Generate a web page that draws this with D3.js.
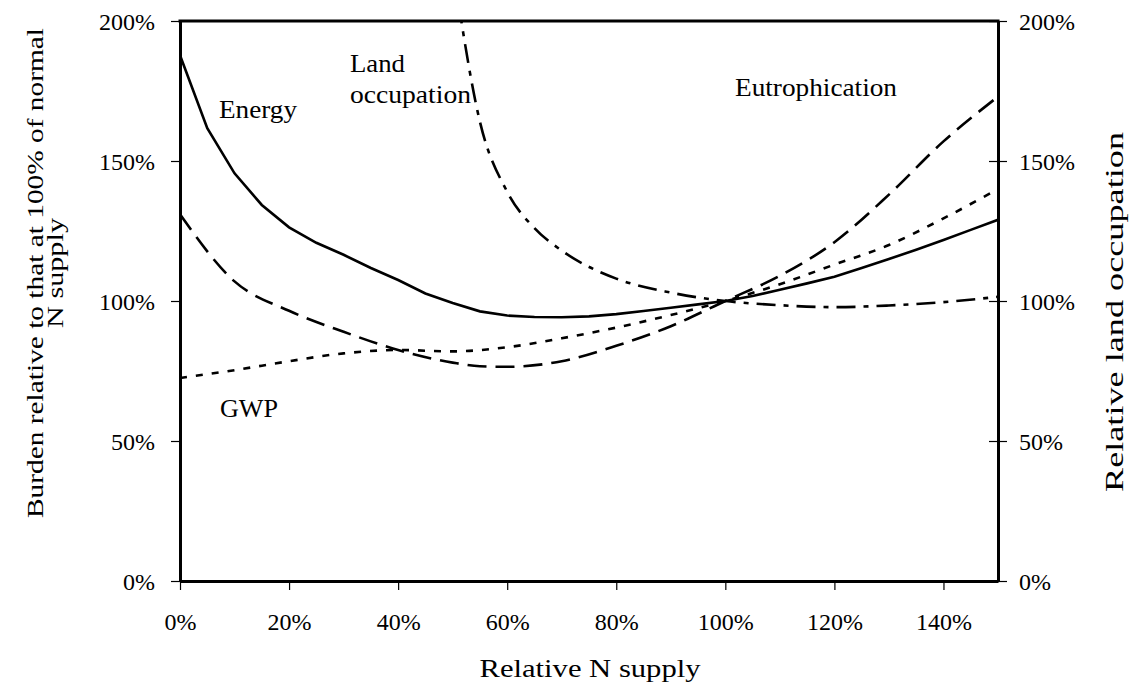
<!DOCTYPE html>
<html>
<head>
<meta charset="utf-8">
<script src="https://cdn.jsdelivr.net/npm/d3@7"></script>
<style>
  body { margin: 0; background: #fff; }
  svg { display: block; }
</style>
</head>
<body>
<svg id="chart" width="1135" height="686"></svg>
<script>
// Relative N supply (%) and tick values
const xTickValues = [0, 20, 40, 60, 80, 100, 120, 140];
const yTickValues = [0, 50, 100, 150, 200];

// Energy burden, sampled every 5 %
const energyX = [0,5,10,15,20,25,30,35,40,45,50,55,60,65,70,75,80,85,90,95,100,105,110,115,120,125,130,135,140,145,150];
const energyY = [187.8,161.7,145.6,134.3,126.3,120.8,116.5,111.8,107.5,102.7,99.3,96.3,94.8,94.3,94.2,94.5,95.3,96.4,97.6,98.8,100,101.8,104,106.3,108.7,111.8,115,118.3,121.8,125.4,129];

// Eutrophication burden
const eutroX = [0,10,20,30,40,50,55,60,70,80,90,100,110,120,130,140,150];
const eutroY = [131,107,96.5,89,82.5,78,76.7,76.5,78.5,84,91,100,109,121,138,157,173];

// Global warming potential
const gwpX = [0,10,20,30,40,50,60,70,80,90,100,110,120,130,140,150];
const gwpY = [72.5,75.3,78.5,81.3,82.5,82,83.5,86.7,90.5,95,100,106,113,120,129.5,140];

// Land occupation (right axis)
const landX = [50,55,60,65,70,80,90,100,110,120,130,140,150];
const landY = [220,164,139,126,118,108,103,100,98.5,97.8,98.4,99.6,101.5];

const SERIF = '"Liberation Serif", "DejaVu Serif", "Times New Roman", serif';

const svg = d3.select("#chart").attr("font-family", SERIF).style("font-family", SERIF);
const plotLeft = 180, plotRight = 998, plotTop = 21, plotBottom = 581;

const x = d3.scaleLinear().domain([0, 150]).range([plotLeft, plotRight]);
const y = d3.scaleLinear().domain([0, 200]).range([plotBottom, plotTop]);
const yR = d3.scaleLinear().domain([0, 200]).range([plotBottom, plotTop]);
const pct = d => d + "%";

svg.append("defs").append("clipPath").attr("id", "plotClip")
  .append("rect").attr("x", plotLeft).attr("y", plotTop)
  .attr("width", plotRight - plotLeft).attr("height", plotBottom - plotTop);

// Axes
const gx = svg.append("g").attr("transform", `translate(0,${plotBottom})`)
  .call(d3.axisBottom(x).tickValues(xTickValues).tickFormat(pct).tickSize(9).tickSizeOuter(0));
gx.selectAll("text").attr("y", 49).attr("dy", 0);

const gy = svg.append("g").attr("transform", `translate(${plotLeft},0)`)
  .call(d3.axisLeft(y).tickValues(yTickValues).tickFormat(pct).tickSize(9).tickSizeOuter(0));
gy.selectAll("text").attr("x", -25).attr("dy", "0.35em");

const gyr = svg.append("g").attr("transform", `translate(${plotRight},0)`)
  .call(d3.axisRight(yR).tickValues(yTickValues).tickFormat(pct).tickSize(9).tickSizeOuter(0));
gyr.selectAll(".tick line").attr("x1", -9).attr("x2", 9);
gyr.selectAll("text").attr("x", 21).attr("dy", "0.35em");

[gx, gy, gyr].forEach(g => {
  g.attr("font-family", SERIF).attr("font-size", 24);
  g.selectAll("text").attr("fill", "#000").style("font-family", SERIF).style("font-size", "24px");
  g.select(".domain").attr("stroke", "#000").attr("stroke-width", 3);
  g.selectAll(".tick line").attr("stroke", "#000").attr("stroke-width", 1.2);
});

// Top edge of the plot frame
svg.append("line").attr("x1", plotLeft - 1.5).attr("x2", plotRight + 1.5)
  .attr("y1", plotTop).attr("y2", plotTop).attr("stroke", "#000").attr("stroke-width", 3);

// Curves
const plot = svg.append("g").attr("clip-path", "url(#plotClip)");

function drawLine(xs, ys, scaleY, curve, dash) {
  const pts = xs.map((v, i) => [v, ys[i]]);
  plot.append("path")
    .attr("d", d3.line().x(d => x(d[0])).y(d => scaleY(d[1])).curve(curve)(pts))
    .attr("fill", "none").attr("stroke", "#000").attr("stroke-width", 2.6)
    .attr("stroke-dasharray", dash);
}

drawLine(energyX, energyY, y, d3.curveLinear, null);
drawLine(eutroX, eutroY, y, d3.curveMonotoneX, "19,9");
drawLine(gwpX, gwpY, y, d3.curveMonotoneX, "7,9");
drawLine(landX, landY, yR, d3.curveMonotoneX, "19,8,5,8");

// Series labels
const labels = [
  { t: "Energy", x: 219, y: 118, w: 78 },
  { t: "Land", x: 350, y: 72, w: 55 },
  { t: "occupation", x: 350, y: 103, w: 121 },
  { t: "Eutrophication", x: 735, y: 96, w: 162 }
];
svg.selectAll("text.lbl").data(labels.concat([{ t: "GWP", x: 220, y: 417, w: 58 }]))
  .enter().append("text")
  .attr("class", "lbl").attr("x", d => d.x).attr("y", d => d.y)
  .attr("textLength", d => d.w).attr("lengthAdjust", "spacingAndGlyphs")
  .attr("fill", "#000").style("font-family", SERIF).style("font-size", "26px")
  .text(d => d.t);

// Axis titles
function title(tx, ty, rot, len, size, str) {
  svg.append("text")
    .attr("transform", `translate(${tx},${ty}) rotate(${rot})`)
    .attr("text-anchor", "middle").attr("fill", "#000")
    .attr("textLength", len).attr("lengthAdjust", "spacingAndGlyphs")
    .style("font-family", SERIF).style("font-size", size + "px")
    .text(str);
}
title(590, 677, 0, 221, 25, "Relative N supply");
title(43, 273, -90, 490, 23, "Burden relative to that at 100% of normal");
title(63, 273, -90, 110, 23, "N supply");
title(1123, 312, -90, 360, 25, "Relative land occupation");
</script>
</body>
</html>
